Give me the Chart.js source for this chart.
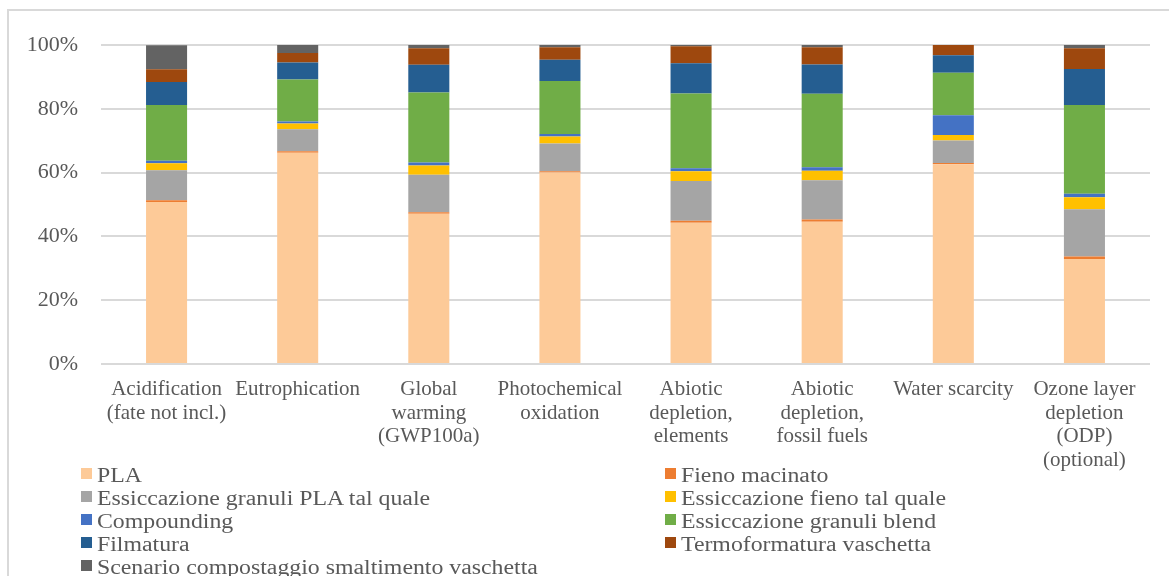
<!DOCTYPE html>
<html>
<head>
<meta charset="utf-8">
<script src="https://cdn.jsdelivr.net/npm/chart.js@4/dist/chart.umd.min.js"></script>
<style>
  html, body { margin: 0; padding: 0; background: #ffffff; }
  #wrap { position: relative; width: 1169px; height: 576px; overflow: hidden; background: #ffffff; }
  #frame { position: absolute; left: 7px; top: 9px; width: 1200px; height: 600px; border: 2px solid #d9d9d9; box-sizing: border-box; }
  #chart { position: absolute; left: 0; top: 0; }
  .lg-box { position: absolute; width: 11px; height: 11px; }
  .lg-txt { position: absolute; font-family: 'Liberation Serif', 'Times New Roman', serif; font-size: 20px; line-height: 23px; color: #595959; white-space: nowrap; transform: scaleX(1.19); transform-origin: left center; }
</style>
</head>
<body>
<div id="wrap">
  <div id="frame"></div>
  <canvas id="chart" width="1169" height="576"></canvas>
  <div id="legend"></div>
</div>
<script>
// Impact categories (multi-line axis labels)
const categories = [
  ['Acidification', '(fate not incl.)'],
  ['Eutrophication'],
  ['Global', 'warming', '(GWP100a)'],
  ['Photochemical', 'oxidation'],
  ['Abiotic', 'depletion,', 'elements'],
  ['Abiotic', 'depletion,', 'fossil fuels'],
  ['Water scarcity'],
  ['Ozone layer', 'depletion', '(ODP)', '(optional)']
];

// Percentage contribution of each life-cycle phase
const pla                = [50.8, 66.2, 47.1, 60.0, 44.3, 44.6, 62.6, 32.9];
const fienoMacinato      = [0.5, 0.5, 0.5, 0.4, 0.6, 0.7, 0.4, 0.8];
const essGranuliPla      = [9.4, 6.9, 11.7, 8.7, 12.5, 12.3, 7.1, 14.8];
const essFieno           = [2.2, 1.8, 2.9, 2.2, 3.0, 3.0, 1.7, 3.8];
const compounding        = [0.8, 0.6, 1.0, 0.8, 1.0, 1.1, 6.2, 1.1];
const essGranuliBlend    = [17.5, 13.2, 21.9, 16.6, 23.4, 23.0, 13.3, 27.8];
const filmatura          = [7.2, 5.3, 8.7, 6.7, 9.5, 9.2, 5.5, 11.3];
const termoformatura     = [4.0, 3.0, 5.2, 3.9, 5.3, 5.4, 3.2, 6.5];
const scenarioCompost    = [7.5, 2.5, 1.0, 0.7, 0.4, 0.7, 0.0, 1.0];

const yTicks = [0, 20, 40, 60, 80, 100];

const seriesNames = [
  'PLA', 'Fieno macinato', 'Essiccazione granuli PLA tal quale', 'Essiccazione fieno tal quale',
  'Compounding', 'Essiccazione granuli blend', 'Filmatura', 'Termoformatura vaschetta',
  'Scenario compostaggio smaltimento vaschetta'
];
const seriesValues = [pla, fienoMacinato, essGranuliPla, essFieno, compounding,
  essGranuliBlend, filmatura, termoformatura, scenarioCompost];
const seriesColors = ['#fdca98', '#ed7d31', '#a5a5a5', '#ffc000', '#4472c4',
  '#70ad47', '#255e91', '#9e480e', '#636363'];

const TEXT = '#595959';
const SERIF = "'Liberation Serif', 'Times New Roman', serif";

const datasets = seriesNames.map((name, i) => ({
  label: name,
  data: seriesValues[i],
  backgroundColor: seriesColors[i],
  borderWidth: 0,
  categoryPercentage: 1,
  barPercentage: 0.313
}));

new Chart(document.getElementById('chart'), {
  type: 'bar',
  data: { labels: categories, datasets },
  options: {
    responsive: false,
    animation: false,
    devicePixelRatio: 1,
    layout: { padding: { left: 0, right: 19, top: 45, bottom: 92 } },
    plugins: { legend: { display: false }, tooltip: { enabled: false } },
    scales: {
      x: {
        stacked: true,
        grid: { display: false, drawTicks: false },
        border: { display: false },
        ticks: {
          autoSkip: false, maxRotation: 0, minRotation: 0, padding: 14,
          color: TEXT, font: { family: SERIF, size: 21, lineHeight: 1.12 }
        },
        afterFit: s => { s.height = 120; }
      },
      y: {
        stacked: true,
        min: 0, max: 100,
        afterBuildTicks: s => { s.ticks = yTicks.map(v => ({ value: v })); },
        grid: { color: '#d9d9d9', lineWidth: 2, drawTicks: false },
        border: { display: false },
        ticks: {
          padding: 23, color: TEXT,
          font: { family: SERIF, size: 22 },
          callback: v => v + '%'
        },
        afterFit: s => { s.width = 101; }
      }
    }
  }
});

// Two-column legend below the plot
const legend = document.getElementById('legend');
const colX = [81, 665];
seriesNames.forEach((name, i) => {
  const row = Math.floor(i / 2), col = i % 2;
  const top = 463.7 + row * 23;
  const box = document.createElement('div');
  box.className = 'lg-box';
  box.style.left = colX[col] + 'px';
  box.style.top = (top + 4.3) + 'px';
  box.style.background = seriesColors[i];
  const txt = document.createElement('div');
  txt.className = 'lg-txt';
  txt.style.left = (colX[col] + 16) + 'px';
  txt.style.top = top + 'px';
  txt.textContent = name;
  legend.appendChild(box);
  legend.appendChild(txt);
});
</script>
</body>
</html>
